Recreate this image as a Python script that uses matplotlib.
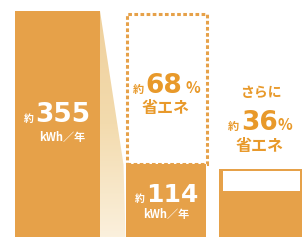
import matplotlib.pyplot as plt
import numpy as np
from matplotlib.patches import Rectangle, Polygon
from matplotlib.colors import LinearSegmentedColormap

plt.rcParams['font.family'] = ['Noto Sans CJK JP', 'DejaVu Sans']

# data
labels = ['現在', '省エネ後', 'さらに']
usage = [355, 114, 73]          # kWh / 年
saving_pct = ['68', '36']

orange = '#E6A149'
text_orange = '#E8992A'

# bar layout (pixels across the 302 px wide figure)
xs = [57.5, 165.5, 260.5]
widths = [85, 80, 83]

fig = plt.figure(figsize=(3.02, 2.40), dpi=100)
ax = fig.add_axes([0, 0, 1, 1])
ax.set_xlim(0, 302)
ppu = 226 / usage[0]            # pixels per kWh
ax.set_ylim(-3 / ppu, usage[0] + 11 / ppu)
ax.axis('off')

# light connector between bar 1 and bar 2
x1 = xs[0] + widths[0] / 2
x2 = xs[1] - widths[1] / 2
wedge = Polygon([(x1, usage[0]), (x1, 0), (x2, 0), (x2 - 2, usage[1])],
                closed=True, facecolor='none', edgecolor='none')
ax.add_patch(wedge)
grad = np.linspace(0, 1, 200).reshape(-1, 1)
cmap = LinearSegmentedColormap.from_list('w', ['#FBF0DC', '#F3DBAE', '#EFD09C'])
im = ax.imshow(grad, cmap=cmap, extent=(x1, x2, usage[0], 0), aspect='auto',
               origin='upper', zorder=1)
im.set_clip_path(wedge)

# bars
ax.bar(xs, usage, width=widths, color=orange, zorder=2)

# dashed outline of the original usage on bar 2
ax.add_patch(Rectangle((xs[1] - widths[1] / 2 + 1.5, usage[1]), widths[1], usage[0] - usage[1] - 3 / ppu,
                       fill=False, edgecolor=orange, lw=2.2, ls=(0, (1.2, 0.8)), zorder=3))

# bar 3: white window showing saving from bar 2 level
ax.bar(xs[2], usage[1] - 5 / ppu, width=widths[2], color=orange, zorder=2)
ax.bar(xs[2] + 1, usage[1] - usage[2] - 7 / ppu, bottom=usage[2], width=widths[2] - 6,
       color='white', zorder=3)

def y(px):
    return (237 - px) / ppu

bold = dict(fontweight='bold', zorder=5)
num = ['DejaVu Sans']

# bar 1 labels
ax.text(34, y(122), '約', color='white', fontsize=7, ha='right', va='baseline', **bold)
ax.text(35, y(122), str(usage[0]), color='white', fontsize=19, family=num, ha='left', va='baseline', **bold)
ax.text(62, y(137), 'kWh／年', color='white', fontsize=8, ha='center', va='center', **bold)

# bar 2 labels
ax.text(144, y(93), '約', color=text_orange, fontsize=8, ha='right', va='baseline', **bold)
ax.text(145, y(93), saving_pct[0], color=text_orange, fontsize=19, family=num, ha='left', va='baseline', **bold)
ax.text(185, y(93), '%', color=text_orange, fontsize=11, ha='left', va='baseline', **bold)
ax.text(166, y(108), '省エネ', color=text_orange, fontsize=11.5, ha='center', va='center', **bold)

ax.text(145, y(202), '約', color='white', fontsize=7, ha='right', va='baseline', **bold)
ax.text(146, y(202), str(usage[1]), color='white', fontsize=18, family=num, ha='left', va='baseline', **bold)
ax.text(166, y(214), 'kWh／年', color='white', fontsize=8, ha='center', va='center', **bold)

# bar 3 labels
ax.text(261, y(93), 'さらに', color=text_orange, fontsize=10, ha='center', va='center', **bold)
ax.text(239, y(130), '約', color=text_orange, fontsize=8, ha='right', va='baseline', **bold)
ax.text(241, y(130), saving_pct[1], color=text_orange, fontsize=19, family=num, ha='left', va='baseline', **bold)
ax.text(278, y(130), '%', color=text_orange, fontsize=11, ha='left', va='baseline', **bold)
ax.text(260, y(146), '省エネ', color=text_orange, fontsize=11.5, ha='center', va='center', **bold)

fig.savefig('out.png', dpi=100)
